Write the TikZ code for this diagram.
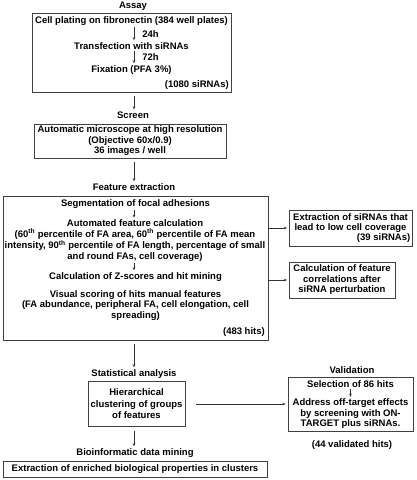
\documentclass[tikz,border=0pt]{standalone}
\usepackage{fontspec}
\setmainfont{Liberation Sans}
\usetikzlibrary{arrows.meta}
\begin{document}
\begin{tikzpicture}[x=1pt,y=-1pt,
  txt/.style={font=\fontsize{9.5}{10.5}\selectfont\bfseries, inner sep=0pt, align=center, text=black},
  frame/.style={draw=black!75, line width=0.8pt, inner sep=0pt},
  arr/.style={draw=black!80, line width=0.6pt, -{Stealth[length=3.2pt,width=2.6pt]}},
]
\useasboundingbox (0,0) rectangle (416,480);
\coordinate (spine) at (134,0);

% Assay
\node[txt] (assay) at (133,6) {Assay};
\node[frame, minimum width=199pt, minimum height=79pt] (b1) at (131.5,52.5) {};
\node[txt] (c1) at (131.5,21) {Cell plating on fibronectin (384 well plates)};
\node[txt] (c2) at (131.5,46) {Transfection with siRNAs};
\node[txt] (c3) at (131.5,70) {Fixation (PFA 3\%)};
\node[txt, anchor=east] (n1080) at (229,85) {(1080 siRNAs)};
\draw[arr, shorten <=1pt, shorten >=2pt] (c1.south -| spine) -- (c2.north -| spine)
  node[txt, midway, anchor=west, xshift=8pt] (l24) {24h};
\draw[arr, shorten <=1pt, shorten >=2pt] (c2.south -| spine) -- (c3.north -| spine)
  node[txt, midway, anchor=west, xshift=8pt] (l72) {72h};

% Screen
\node[txt] (screen) at (133,115) {Screen};
\draw[arr, shorten <=4pt, shorten >=2pt] (b1.south -| spine) -- (screen.north -| spine);
\node[frame, minimum width=192pt, minimum height=34pt] (b2) at (130,141) {};
\node[txt] (micro) at (130,141) {Automatic microscope at high resolution\\(Objective 60x/0.9)\\36 images / well};

% Feature extraction
\node[txt] (feat) at (134,187) {Feature extraction};
\draw[arr, shorten <=4pt, shorten >=2pt] (b2.south -| spine) -- (feat.north -| spine);
\node[frame, minimum width=265pt, minimum height=144pt] (b3) at (135.5,268) {};
\node[txt] (seg) at (135.5,204) {Segmentation of focal adhesions};
\node[txt] (auto) at (135,240.75) {Automated feature calculation\\(60\textsuperscript{th} percentile of FA area, 60\textsuperscript{th} percentile of FA mean\\intensity, 90\textsuperscript{th} percentile of FA length, percentage of small\\and round FAs, cell coverage)};
\node[txt] (zs) at (135.5,277) {Calculation of Z-scores and hit mining};
\node[txt] (vis) at (135.5,305.5) {Visual scoring of hits manual features\\(FA abundance, peripheral FA, cell elongation, cell\\spreading)};
\node[txt, anchor=east] (h483) at (265,332) {(483 hits)};
\draw[arr, shorten <=1pt, shorten >=2pt] (seg.south -| spine) -- (auto.north -| spine);
\draw[arr, shorten <=1pt, shorten >=2pt] (auto.south -| spine) -- (zs.north -| spine);

% side boxes
\node[frame, minimum width=123pt, minimum height=36pt] (r1) at (350.5,228) {};
\node[txt] (r1t) at (350.5,223) {Extraction of siRNAs that\\lead to low cell coverage};
\node[txt, anchor=east] (n39) at (410.5,238.5) {(39 siRNAs)};
\draw[arr, shorten >=1.5pt] (b3.east |- r1) -- (r1.west);
\node[frame, minimum width=106pt, minimum height=36pt] (r2) at (342,280) {};
\node[txt] (r2t) at (342,280) {Calculation of feature\\correlations after\\siRNA perturbation};
\draw[arr, shorten >=1.5pt] (b3.east |- r2) -- (r2.west);

% Statistical analysis
\node[txt] (stat) at (134,374) {Statistical analysis};
\draw[arr, shorten <=4pt, shorten >=2pt] (b3.south -| spine) -- (stat.north -| spine);
\node[frame, minimum width=97pt, minimum height=45pt] (hier) at (136.5,404) {};
\node[txt, font=\fontsize{9.5}{11.5}\selectfont\bfseries] (hiert) at (136.5,404) {Hierarchical\\clustering of groups\\of features};

% Bioinformatic
\node[txt] (bio) at (135,453) {Bioinformatic data mining};
\draw[arr, shorten <=4pt, shorten >=2pt] (hier.south -| spine) -- (bio.north -| spine);
\node[frame, minimum width=264pt, minimum height=16pt] (ext) at (135,469) {};
\node[txt] (extt) at (135,469) {Extraction of enriched biological properties in clusters};

% Validation
\node[txt] (valt) at (352,370) {Validation};
\node[frame, minimum width=125pt, minimum height=54pt] (val) at (350.5,404) {};
\node[txt] (sel) at (350.5,384) {Selection of 86 hits};
\node[txt] (addr) at (350.5,414) {Address off-target effects\\by screening with ON-\\TARGET plus siRNAs.};
\draw[arr, shorten <=1pt, shorten >=2pt] (sel.south) -- (addr.north);
\node[txt] (n44) at (352,445) {(44 validated hits)};
\draw[arr, shorten <=11pt, shorten >=2pt] (hier.east) -- (val.west);
\end{tikzpicture}
\end{document}
